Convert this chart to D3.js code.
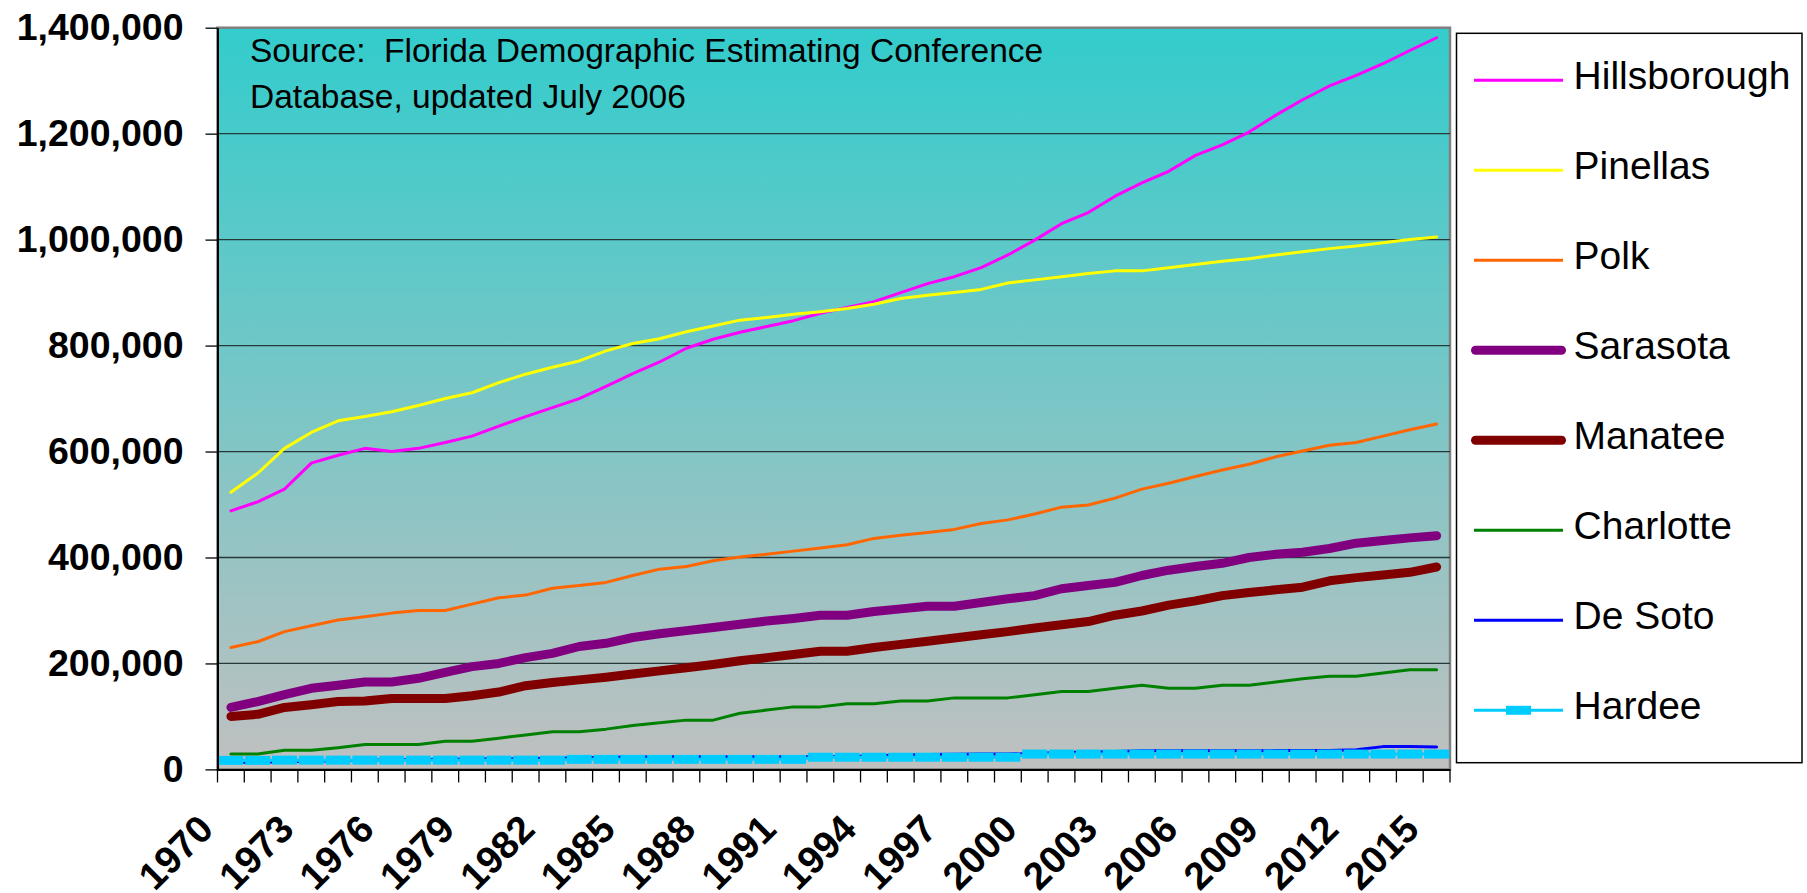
<!DOCTYPE html>
<html><head><meta charset="utf-8">
<script src="https://cdn.jsdelivr.net/npm/d3@7"></script>
<style>
body{margin:0;background:#fff;}
svg{display:block;}
text{font-family:"Liberation Sans", Arial, sans-serif;}
</style>
</head><body>
<svg id="chart" width="1807" height="893"></svg>
<script>
// ---------------- data ----------------
const years = [1970,1971,1972,1973,1974,1975,1976,1977,1978,1979,1980,1981,1982,1983,1984,1985,1986,1987,1988,1989,
  1990,1991,1992,1993,1994,1995,1996,1997,1998,1999,2000,2001,2002,2003,2004,2005,2006,2007,2008,2009,
  2010,2011,2012,2013,2014,2015];
const xTickLabels = [1970,1973,1976,1979,1982,1985,1988,1991,1994,1997,2000,2003,2006,2009,2012,2015];
const yTickValues = [0,200000,400000,600000,800000,1000000,1200000,1400000];

const seriesNames = ["Hillsborough","Pinellas","Polk","Sarasota","Manatee","Charlotte","De Soto","Hardee"];

const hillsborough = [488000,505000,529000,578000,593000,606000,600000,606000,617000,629000,
  648000,666000,683000,700000,723000,747000,769000,795000,812000,825000,
  836000,847000,861000,872000,883000,900000,917000,930000,947000,971000,
  999000,1030000,1051000,1082000,1107000,1129000,1159000,1179000,1203000,1235000,
  1264000,1290000,1310000,1332000,1357000,1381000];
const pinellas = [523000,559000,606000,636000,658000,666000,675000,687000,700000,711000,
  730000,746000,759000,771000,790000,804000,813000,826000,837000,848000,
  853000,859000,864000,870000,878000,889000,895000,900000,906000,918000,
  924000,930000,936000,941000,941000,947000,953000,959000,964000,971000,
  977000,983000,988000,994000,1000000,1005000];
const polk = [230000,241000,260000,271000,282000,288000,295000,300000,300000,312000,
  324000,329000,342000,347000,353000,366000,378000,383000,394000,401000,
  406000,412000,418000,424000,436000,442000,447000,453000,464000,471000,
  482000,495000,499000,512000,529000,540000,553000,565000,576000,590000,
  601000,612000,617000,629000,641000,652000];
const sarasota = [117000,128000,141000,153000,159000,165000,165000,172000,183000,194000,
  200000,211000,219000,232000,238000,249000,256000,262000,268000,274000,
  280000,285000,291000,291000,298000,303000,308000,308000,315000,322000,
  328000,341000,347000,353000,366000,376000,383000,389000,400000,406000,
  410000,417000,427000,432000,437000,441000];
const manatee = [100000,104000,117000,122000,128000,129000,134000,134000,134000,139000,
  146000,158000,164000,169000,174000,180000,186000,192000,198000,205000,
  211000,217000,223000,223000,230000,236000,242000,248000,254000,260000,
  267000,273000,279000,291000,299000,310000,318000,328000,334000,339000,
  344000,356000,362000,367000,372000,382000];
const charlotte = [29000,29000,36000,36000,41000,47000,47000,47000,53000,53000,
  59000,65000,71000,71000,76000,83000,88000,93000,93000,106000,
  112000,118000,118000,124000,124000,129000,129000,135000,135000,135000,
  141000,147000,147000,153000,159000,153000,153000,159000,159000,165000,
  171000,176000,176000,182000,188000,188000];
const deSoto = [13000,13500,14500,15500,16500,17500,18000,18500,19000,19500,
  20000,20500,21000,22000,23000,23500,24000,24000,24000,24000,
  24000,24000,24000,24500,26000,27000,28000,28500,29000,29000,
  30000,32000,33000,34000,35000,35000,35000,35000,35000,35500,
  35500,35500,37000,43000,43000,42500];
const hardee = [17000,17000,17500,17500,17500,17500,17500,17500,17500,17500,
  17500,17500,17500,19000,19000,19000,19000,19000,19000,19000,
  19000,19000,23000,23000,23000,23000,23000,23000,23000,23000,
  29000,29000,29000,29000,29000,29000,29000,29000,29000,29000,
  29000,29000,29000,29000,29000,29000];

const sourceLines = ["Source:  Florida Demographic Estimating Conference", "Database, updated July 2006"];

// ---------------- styling ----------------
const seriesValues = [hillsborough, pinellas, polk, sarasota, manatee, charlotte, deSoto, hardee];
const seriesColors = ["#FF00FF","#FFFF00","#FF6600","#800080","#800000","#008000","#0000FF","#00CCFF"];
const seriesWidths = [3,3,3,9,9,3,3,3];

const svg = d3.select("#chart");
const L = 217.5, R = 1450, T = 27.7, B = 769.4;

const x = d3.scalePoint().domain(years).range([L, R]).padding(0.5);
const xb = d3.scaleBand().domain(years).range([L, R]);
const y = d3.scaleLinear().domain([0, 1400000]).range([B, T]);

const defs = svg.append("defs");
const grad = defs.append("linearGradient").attr("id","bg").attr("x1",0).attr("y1",0).attr("x2",0).attr("y2",1);
grad.append("stop").attr("offset","0%").attr("stop-color","#33CCCC");
grad.append("stop").attr("offset","100%").attr("stop-color","#C0C0C0");

// plot area
svg.append("rect").attr("x", L).attr("y", T).attr("width", R - L).attr("height", B - T)
  .attr("fill","url(#bg)").attr("stroke","#808080").attr("stroke-width",2.5);

// gridlines
svg.append("g").selectAll("line").data(yTickValues.filter(v => v > 0 && v < 1400000)).join("line")
  .attr("x1", L).attr("x2", R).attr("y1", d => y(d)).attr("y2", d => y(d))
  .attr("stroke","#263838").attr("stroke-width",1.3);

// series lines
const line = d3.line().x((d,i) => x(years[i])).y(d => y(d));
seriesValues.forEach((vals, s) => {
  svg.append("path").datum(vals).attr("d", line)
    .attr("fill","none").attr("stroke", seriesColors[s]).attr("stroke-width", seriesWidths[s])
    .attr("stroke-linejoin","round").attr("stroke-linecap","round");
});
// Hardee markers
svg.append("g").selectAll("rect").data(hardee).join("rect")
  .attr("x", (d,i) => x(years[i]) - 12.5).attr("y", d => y(d) - 4.5)
  .attr("width", 25).attr("height", 9).attr("fill","#00CCFF");

// y axis
const yAxis = svg.append("g").attr("transform", `translate(${L},0)`)
  .call(d3.axisLeft(y).tickValues(yTickValues).tickSize(12).tickSizeOuter(0).tickPadding(22).tickFormat(d3.format(",")));
yAxis.select(".domain").attr("stroke","#000").attr("stroke-width",2);
yAxis.selectAll(".tick line").attr("stroke","#000").attr("stroke-width",1.3);
yAxis.selectAll(".tick text").attr("font-size","37.5px").attr("font-weight","bold").attr("fill","#000")
  .attr("font-family","Liberation Sans, Arial, sans-serif");

// x axis
const xAxis = svg.append("g").attr("transform", `translate(0,${B})`)
  .call(d3.axisBottom(x).tickValues(xTickLabels).tickSize(0).tickSizeOuter(0));
xAxis.select(".domain").attr("stroke","#000").attr("stroke-width",2);
xAxis.selectAll(".tick text")
  .attr("x",0).attr("y",0).attr("dy",0)
  .attr("text-anchor","end")
  .attr("transform","translate(-16,62) rotate(-45)")
  .attr("font-size","38.5px").attr("font-weight","bold").attr("fill","#000")
  .attr("font-family","Liberation Sans, Arial, sans-serif");
// category boundary tick marks
xAxis.append("g").selectAll("line").data(years.map(v => xb(v)).concat([R])).join("line")
  .attr("x1", d => d).attr("x2", d => d).attr("y1", 0).attr("y2", 13)
  .attr("stroke","#000").attr("stroke-width",1.3);

// source note
svg.append("g").selectAll("text").data(sourceLines).join("text")
  .attr("x", 250).attr("y", (d,i) => 61.7 + i * 46.3)
  .attr("font-size","33.5px").attr("fill","#000").style("white-space","pre")
  .text(d => d);

// legend
const lg = svg.append("g");
lg.append("rect").attr("x",1456.5).attr("y",33.3).attr("width",345.5).attr("height",729.4)
  .attr("fill","#fff").attr("stroke","#000").attr("stroke-width",1.5);
const legendY = i => 80.3 + i * 90;
seriesNames.forEach((name, i) => {
  const yy = legendY(i);
  const thick = seriesWidths[i] > 5;
  lg.append("line").attr("x1", thick ? 1475.5 : 1474).attr("x2", thick ? 1561.5 : 1563)
    .attr("y1", yy).attr("y2", yy)
    .attr("stroke", seriesColors[i]).attr("stroke-width", seriesWidths[i])
    .attr("stroke-linecap", thick ? "round" : "butt");
  if (name === "Hardee") {
    lg.append("rect").attr("x", 1518.5 - 12.5).attr("y", yy - 4.5).attr("width",25).attr("height",9).attr("fill", seriesColors[i]);
  }
  lg.append("text").attr("x", 1573.6).attr("y", yy + 9).attr("font-size","39px").attr("fill","#000").text(name);
});
</script>
</body></html>
